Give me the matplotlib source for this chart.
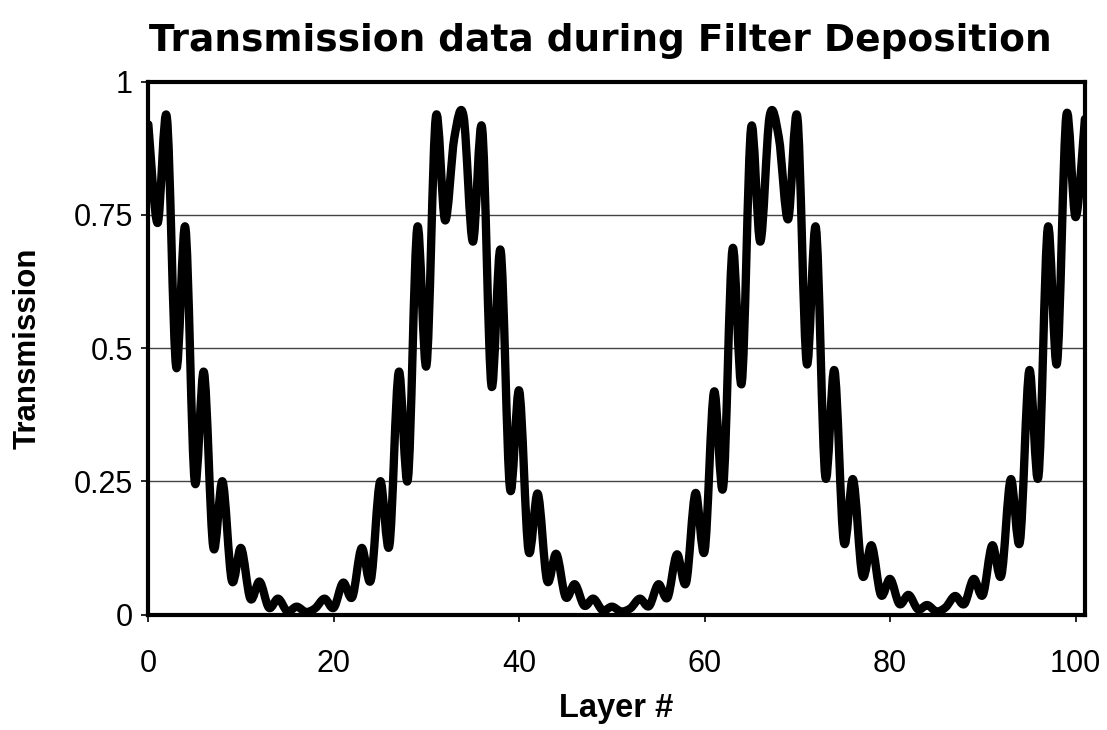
import numpy as np
import matplotlib
matplotlib.use("Agg")
import matplotlib.pyplot as plt
from matplotlib.path import Path
from matplotlib.patches import PathPatch

plt.rcParams['font.family'] = ['Liberation Sans', 'DejaVu Sans']

# layer number at the end of each deposited layer
layers = list(range(0, 102))

# transmission, one value per layer
transmission = [
    0.92, 0.735, 0.933, 0.465, 0.726, 0.25, 0.455, 0.127, 0.25, 0.064,    # 0-9
    0.125, 0.03, 0.062, 0.013, 0.03, 0.006, 0.015, 0.005, 0.012, 0.03,    # 10-19
    0.013, 0.06, 0.033, 0.125, 0.065, 0.25, 0.13, 0.455, 0.255, 0.726,    # 20-29
    0.468, 0.933, 0.74, 0.895, 0.935, 0.70, 0.913, 0.43, 0.683, 0.237,    # 30-39
    0.42, 0.12, 0.227, 0.064, 0.114, 0.033, 0.057, 0.017, 0.03, 0.008,    # 40-49
    0.015, 0.006, 0.012, 0.03, 0.016, 0.057, 0.032, 0.113, 0.06, 0.228,   # 50-59
    0.12, 0.418, 0.24, 0.686, 0.435, 0.913, 0.70, 0.935, 0.895, 0.742,    # 60-69
    0.933, 0.472, 0.726, 0.26, 0.458, 0.137, 0.254, 0.074, 0.13, 0.037,   # 70-79
    0.067, 0.02, 0.037, 0.01, 0.018, 0.006, 0.014, 0.035, 0.02, 0.067,    # 80-89
    0.037, 0.13, 0.074, 0.254, 0.137, 0.458, 0.26, 0.726, 0.472, 0.936,   # 90-99
    0.746, 0.93,                                                          # 100-101
]

x_ticks = [0, 20, 40, 60, 80, 100]
y_ticks = [0, 0.25, 0.5, 0.75, 1]
y_tick_labels = ['0', '0.25', '0.5', '0.75', '1']

fig = plt.figure(figsize=(11.07, 7.3), dpi=100)
ax = fig.add_axes([0.134, 0.158, 0.846, 0.730])

# smoothed line like the spreadsheet "smoothed line" option (cubic bezier through the points)
pts = np.column_stack([layers, transmission]).astype(float)
verts = [pts[0]]
codes = [Path.MOVETO]
n = len(pts)
for i in range(n - 1):
    p0 = pts[i - 1] if i > 0 else pts[i]
    p1 = pts[i]
    p2 = pts[i + 1]
    p3 = pts[i + 2] if i + 2 < n else pts[i + 1]
    c1 = p1 + (p2 - p0) / 6.0
    c2 = p2 - (p3 - p1) / 6.0
    verts += [c1, c2, p2]
    codes += [Path.CURVE4, Path.CURVE4, Path.CURVE4]
curve = PathPatch(Path(verts, codes), facecolor='none', edgecolor='black',
                  linewidth=6, capstyle='round', joinstyle='round', zorder=3)
ax.add_patch(curve)

ax.set_xlim(0, 101)
ax.set_ylim(0, 1)
ax.set_xticks(x_ticks)
ax.set_yticks(y_ticks)
ax.set_yticklabels(y_tick_labels)
ax.tick_params(axis='both', labelsize=22, direction='out', length=5, width=1.2, pad=6)
ax.tick_params(axis='x', pad=20)

ax.yaxis.grid(True, color='#444444', linewidth=1.0)
ax.set_axisbelow(True)
for s in ax.spines.values():
    s.set_linewidth(3)
    s.set_color('black')

ax.set_title('Transmission data during Filter Deposition', fontsize=27,
             fontweight='bold', family='DejaVu Sans', pad=22, x=0.483)
ax.set_xlabel('Layer #', fontsize=23.5, fontweight='bold', labelpad=10)
ax.set_ylabel('Transmission', fontsize=22.5, fontweight='bold')
ax.yaxis.set_label_coords(-0.113, 0.5)

fig.savefig('out.png', dpi=100)
